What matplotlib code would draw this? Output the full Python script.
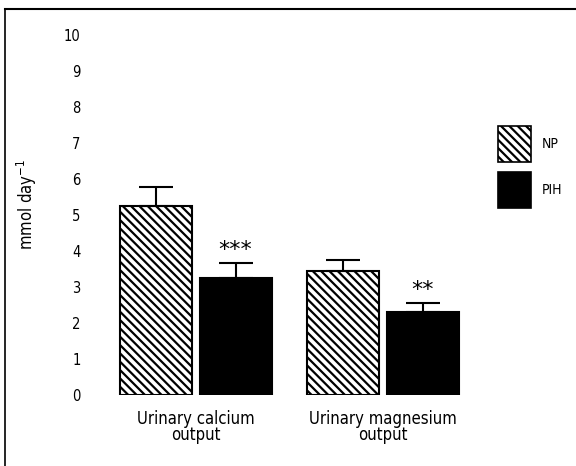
import numpy as np
import matplotlib
matplotlib.use("Agg")
from matplotlib import pyplot as plt
from matplotlib.patches import Patch
from matplotlib.lines import Line2D

plt.rcParams['font.family'] = ['DejaVu Sans']
plt.rcParams['font.stretch'] = 'condensed'
plt.rcParams['hatch.linewidth'] = 1.6

grupos = ["Urinary calcium\noutput", "Urinary magnesium\noutput"]
np_media = [5.25, 3.45]
np_err = [0.53, 0.30]
pih_media = [3.25, 2.30]
pih_err = [0.42, 0.26]
signif = ["***", "**"]
yticks = list(range(0, 11))

rayado = chr(92) * 4  # rayas diagonales densas

fig = plt.figure(figsize=(5.76, 4.66), dpi=100)
ax = fig.add_axes([0.1736, 0.1524, 0.6597, 0.7725])

x = np.arange(len(grupos))
ancho = 0.385
sep = 0.214

ax.bar(x - sep, np_media, ancho, color='white', edgecolor='black',
       hatch=rayado, linewidth=1.5, label='NP')
ax.bar(x + sep, pih_media, ancho, color='black', edgecolor='black',
       linewidth=1.5, label='PIH')
# solo la barra de error hacia arriba
ax.errorbar(x - sep, np_media, yerr=[np.zeros(2), np_err], fmt='none',
            ecolor='black', elinewidth=1.5, capsize=12.3, capthick=1.5)
ax.errorbar(x + sep, pih_media, yerr=[np.zeros(2), pih_err], fmt='none',
            ecolor='black', elinewidth=1.5, capsize=12.3, capthick=1.5)

for i in range(len(grupos)):
    ax.text(x[i] + sep, pih_media[i] + pih_err[i] + 0.37, signif[i],
            ha='center', va='center', fontsize=16, family='DejaVu Sans',
            stretch='normal')

ax.set_xlim(-0.511, 1.521)
ax.set_ylim(0, 10)
ax.set_yticks(yticks)
ax.set_yticklabels([str(v) for v in yticks], fontsize=10.5)
ax.set_xticks(x)
ax.set_xticklabels(grupos, fontsize=12, linespacing=0.9)
ax.tick_params(axis='y', length=0, pad=14)
ax.tick_params(axis='x', length=0, pad=10.5)
for s in ax.spines.values():
    s.set_visible(False)

ax.set_ylabel('mmol day$^{-1}$', fontsize=12)
ax.yaxis.set_label_coords(-0.16, 0.53)

handles = [Patch(facecolor='white', edgecolor='black', hatch=rayado, linewidth=1.2),
           Patch(facecolor='black', edgecolor='black', linewidth=1.2)]
fig.legend(handles, ['NP', 'PIH'], loc='upper left',
           bbox_to_anchor=(0.864, 1 - 126 / 466), frameon=False, fontsize=10,
           handlelength=2.43, handleheight=3.6, labelspacing=0.72,
           handletextpad=0.75, borderpad=0, borderaxespad=0)

# marco (solo borde superior e izquierdo)
fig.add_artist(Line2D([5 / 576, 5 / 576], [0, 1 - 9 / 466], color='black', lw=1.2))
fig.add_artist(Line2D([5 / 576, 1], [1 - 9 / 466, 1 - 9 / 466], color='black', lw=1.5))

fig.savefig('out.png', dpi=100)
